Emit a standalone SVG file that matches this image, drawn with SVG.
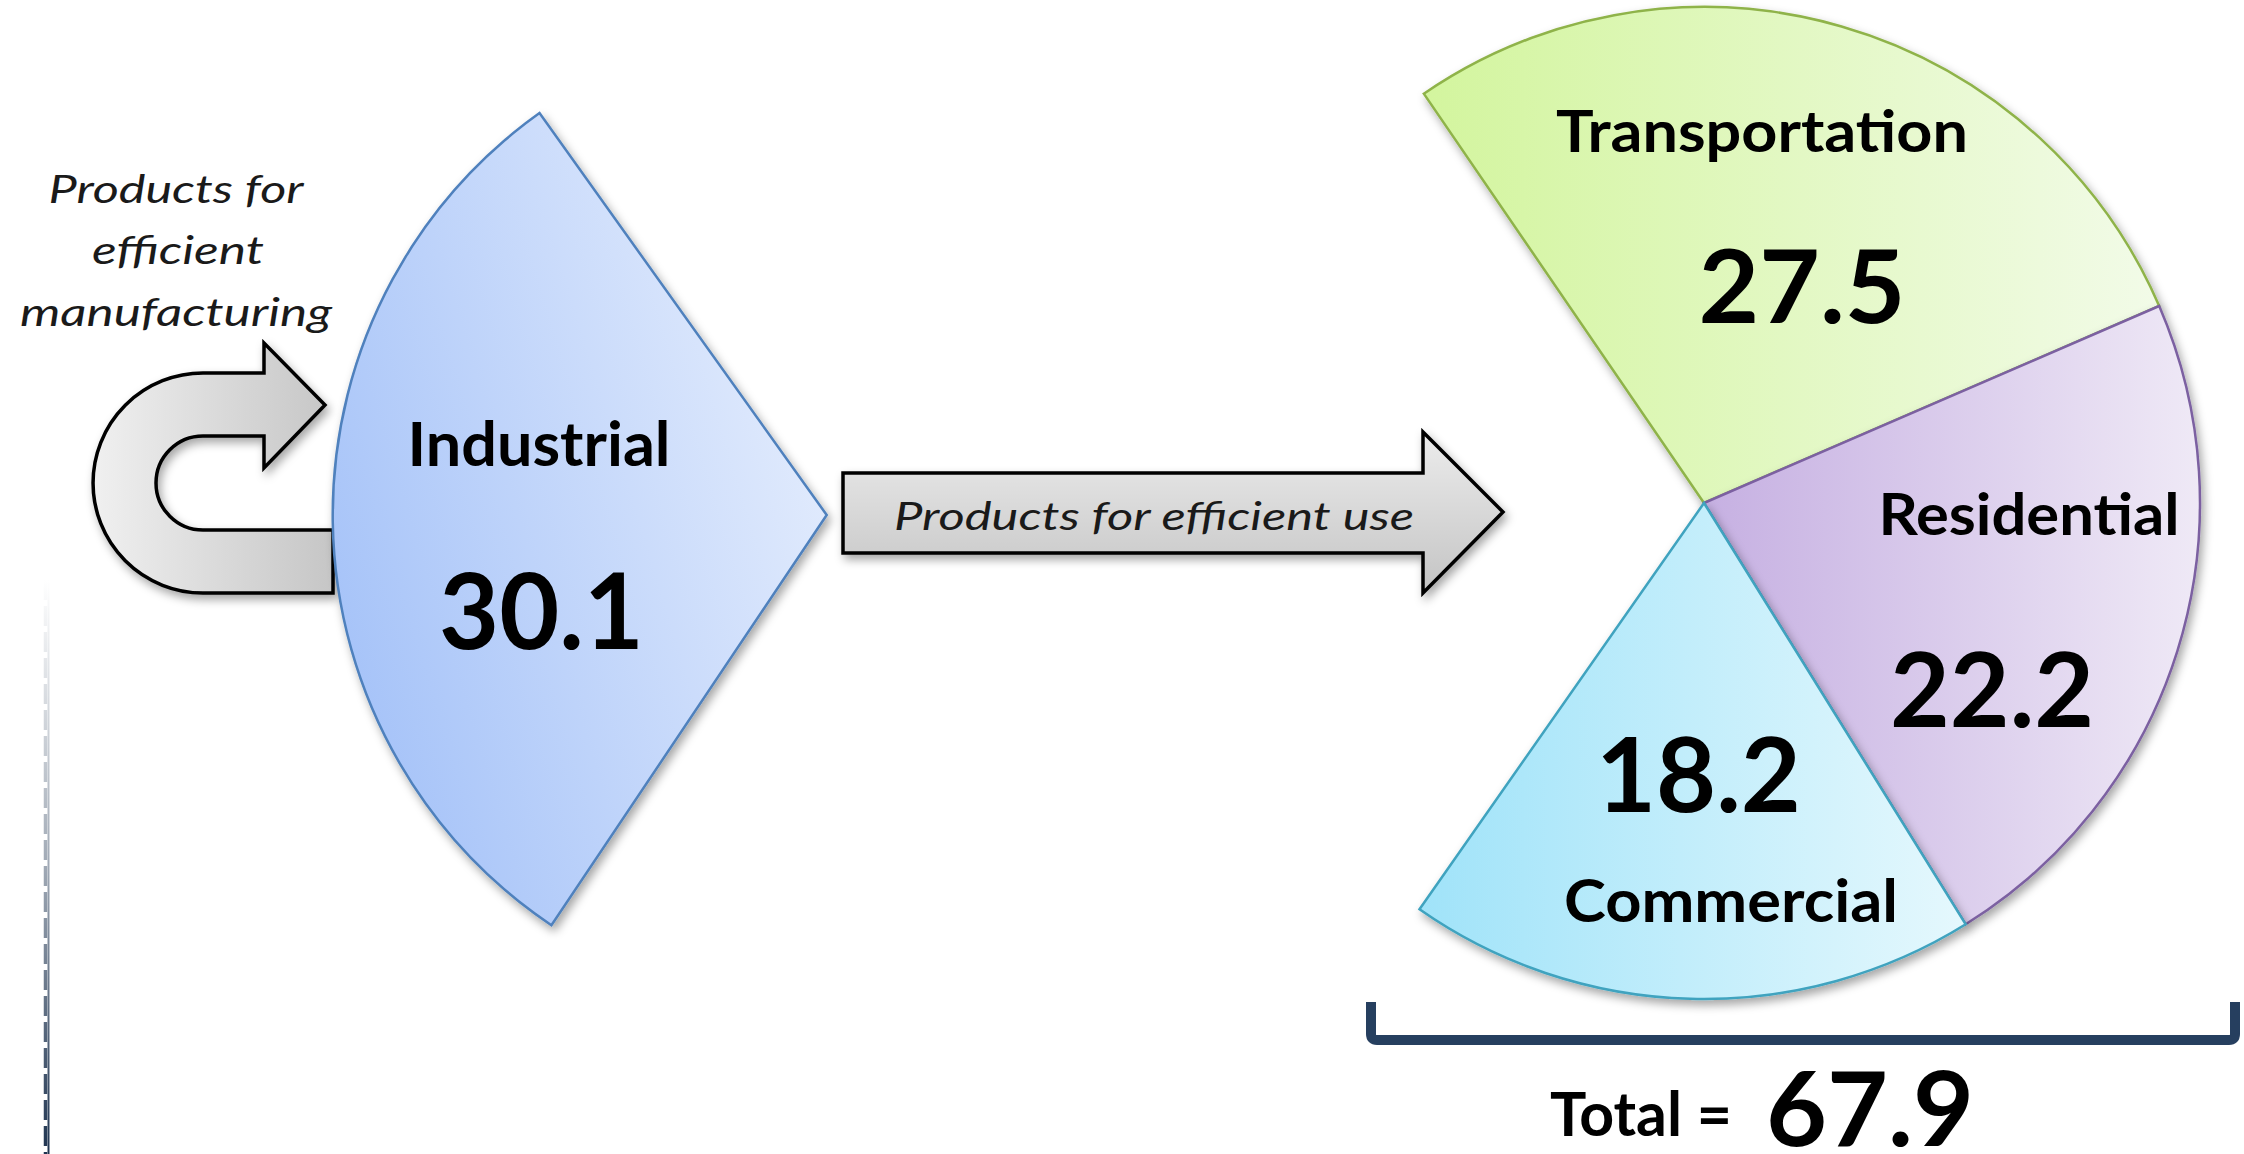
<svg xmlns="http://www.w3.org/2000/svg" width="2244" height="1154" viewBox="0 0 2244 1154">
<defs>
<style>
.lbl{font-family:Lato,"Open Sans","Liberation Sans",sans-serif;font-weight:bold;fill:#000;text-anchor:middle}
.it{font-family:Lato,"Open Sans","Liberation Sans",sans-serif;font-style:italic;fill:#1a1a1a;text-anchor:middle}
.arrow{stroke:#000;stroke-width:3.5;stroke-linejoin:miter}
</style>
<filter id="sh" x="-10%" y="-10%" width="120%" height="120%">
<feDropShadow dx="3" dy="5" stdDeviation="5" flood-color="#000" flood-opacity="0.35"/>
</filter>
<linearGradient id="gInd" x1="0" y1="0.75" x2="1" y2="0.25">
<stop offset="0" stop-color="#a3c1f8"/><stop offset="1" stop-color="#e6eefd"/>
</linearGradient>
<linearGradient id="gTr" x1="0" y1="0" x2="1" y2="0">
<stop offset="0" stop-color="#d3f59e"/><stop offset="1" stop-color="#f2fbe8"/>
</linearGradient>
<linearGradient id="gRe" x1="0" y1="0" x2="1" y2="0">
<stop offset="0" stop-color="#c6b0e2"/><stop offset="1" stop-color="#efe9f6"/>
</linearGradient>
<linearGradient id="gCo" x1="0" y1="0" x2="1" y2="0">
<stop offset="0" stop-color="#a0e3f9"/><stop offset="1" stop-color="#e5f8fd"/>
</linearGradient>
<linearGradient id="gU" x1="0" y1="0" x2="1" y2="0">
<stop offset="0" stop-color="#f0f0f0"/><stop offset="1" stop-color="#c6c6c6"/>
</linearGradient>
<linearGradient id="gA" x1="0" y1="0" x2="0" y2="1">
<stop offset="0" stop-color="#ececec"/><stop offset="1" stop-color="#c4c4c4"/>
</linearGradient>
<linearGradient id="gEdge" gradientUnits="userSpaceOnUse" x1="0" y1="580" x2="0" y2="1154">
<stop offset="0" stop-color="#ffffff"/><stop offset="0.5" stop-color="#a0a9b5"/><stop offset="1" stop-color="#1f3450"/>
</linearGradient>
</defs>

<g id="edge-line">
<line x1="48.5" y1="580" x2="48.5" y2="1154" stroke="url(#gEdge)" stroke-width="2"/>
<line x1="45.5" y1="580" x2="45.5" y2="1154" stroke="url(#gEdge)" stroke-width="3.5" stroke-dasharray="20 6"/>
</g>

<g id="connectors">
<path id="uturn-arrow" class="arrow" fill="url(#gU)" filter="url(#sh)" d="M333,593 L203,593 A110,110 0 0 1 203,373 L264,373 L264,343 L325,405 L264,468 L264,436 L203,436 A47,47 0 0 0 203,530 L333,530 Z"/>
<g id="use-arrow">
<path class="arrow" fill="url(#gA)" filter="url(#sh)" d="M843,473 L1423,473 L1423,432 L1503,512 L1423,593 L1423,553 L843,553 Z"/>
<text class="it" x="1154" y="530" font-size="39" textLength="520" lengthAdjust="spacingAndGlyphs">Products for efficient use</text>
</g>
</g>

<g id="mfg-label">
<text class="it" x="176" y="203" font-size="38" textLength="255" lengthAdjust="spacingAndGlyphs">Products for</text>
<text class="it" x="178" y="264" font-size="38" textLength="172" lengthAdjust="spacingAndGlyphs">efficient</text>
<text class="it" x="176" y="326" font-size="38" textLength="312" lengthAdjust="spacingAndGlyphs">manufacturing</text>
</g>

<g id="industrial">
<path fill="url(#gInd)" stroke="#4f81bd" stroke-width="2.5" filter="url(#sh)" d="M826.7,515 L539.5,113.1 A494,494 0 0 0 551.4,925.2 Z"/>
<text class="lbl" x="539" y="466" font-size="62" textLength="263" lengthAdjust="spacingAndGlyphs">Industrial</text>
<text class="lbl" x="541.5" y="649" font-size="105" textLength="205" lengthAdjust="spacingAndGlyphs">30.1</text>
</g>

<g id="transportation">
<path fill="url(#gTr)" stroke="#8fb34a" stroke-width="2.5" filter="url(#sh)" d="M1704,503 L1423.8,93.7 A496,496 0 0 1 2159.2,306 Z"/>
<text class="lbl" x="1762" y="152" font-size="58" textLength="412" lengthAdjust="spacingAndGlyphs">Transportation</text>
<text class="lbl" x="1802" y="323" font-size="102" textLength="207" lengthAdjust="spacingAndGlyphs">27.5</text>
</g>

<g id="residential">
<path fill="url(#gRe)" stroke="#7b61a1" stroke-width="2.5" filter="url(#sh)" d="M1704,503 L2159.2,306 A496,496 0 0 1 1965.7,924.3 Z"/>
<text class="lbl" x="2029" y="535" font-size="58" textLength="301" lengthAdjust="spacingAndGlyphs">Residential</text>
<text class="lbl" x="1992" y="727" font-size="104" textLength="204" lengthAdjust="spacingAndGlyphs">22.2</text>
</g>

<g id="commercial">
<path fill="url(#gCo)" stroke="#3fa3bf" stroke-width="2.5" filter="url(#sh)" d="M1704,503 L1965.7,924.3 A496,496 0 0 1 1419.5,909.3 Z"/>
<text class="lbl" x="1698.5" y="812" font-size="104" textLength="205" lengthAdjust="spacingAndGlyphs">18.2</text>
<text class="lbl" x="1731" y="922" font-size="60" textLength="334" lengthAdjust="spacingAndGlyphs">Commercial</text>
</g>

<g id="total">
<path d="M1371,1002 L1371,1034 Q1371,1040 1377,1040 L2229,1040 Q2235,1040 2235,1034 L2235,1002" fill="none" stroke="#263f5f" stroke-width="10"/>
<text class="lbl" x="1641" y="1136" font-size="61" textLength="182" lengthAdjust="spacingAndGlyphs">Total =</text>
<text class="lbl" x="1870" y="1146" font-size="104" textLength="208" lengthAdjust="spacingAndGlyphs">67.9</text>
</g>
</svg>
